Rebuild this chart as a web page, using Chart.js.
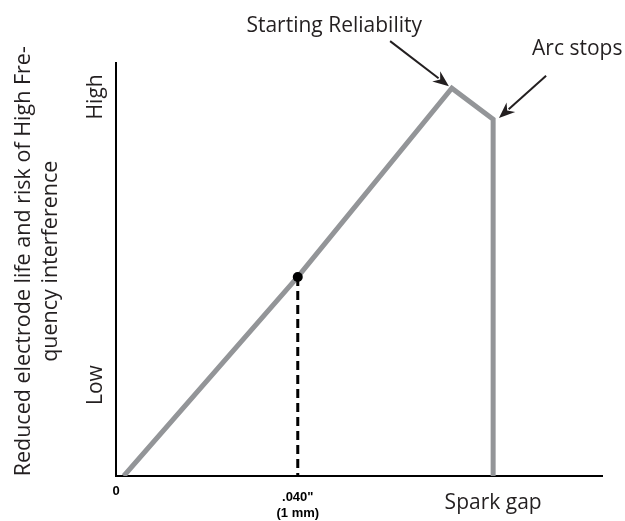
<!DOCTYPE html>
<html>
<head>
<meta charset="utf-8">
<script src="https://cdn.jsdelivr.net/npm/chart.js@4.4.1/dist/chart.umd.min.js"></script>
<style>
  html, body { margin: 0; padding: 0; background: #ffffff; }
  #wrap { width: 625px; height: 521px; }
</style>
</head>
<body>
<div id="wrap"><canvas id="c" width="625" height="521"></canvas></div>
<script>
// Recommended gap marker (relative units 0-100 on both axes)
const gapX = 37.4;
const gapLevel = 48.2;

// Electrode wear / HF interference versus spark gap
const curveX = [1.6, gapX, 69.1, 77.6, 77.6];
const curveY = [0, gapLevel, 93.9, 86.4, 0];

// Axis tick labels
const xTickValues = [0, gapX, 77.6];
const xTickLabels = [['0'], ['.040"', '(1 mm)'], ['Spark gap']];
const yTickValues = [22.0, 91.8];
const yTickLabels = ['Low', 'High'];
const yTitle = ['Reduced electrode life and risk of High Fre-', 'quency interference'];
const yTitleCenter = 52;   // axis value at the middle of the title

// Callouts: text anchor (baseline centre), arrow tail, arrow tip
const calloutText = ['Starting Reliability', 'Arc stops'];
const calloutTextX = [44.9, 94.9];
const calloutTextY = [107.5, 101.9];
const arrowFromX = [56.4, 88.5];
const arrowFromY = [105.3, 96.9];
const arrowToX = [68.5, 78.8];
const arrowToY = [94.4, 86.7];

const TEXT_FONT = '"Open Sans", "Noto Sans", sans-serif';
const TEXT_COLOR = '#231f20';

// Draws the rotated y-axis labels, the y title and the arrow callouts
const calloutPlugin = {
  id: 'callouts',
  afterDraw(chart) {
    const { ctx, scales: { x, y } } = chart;
    ctx.save();
    ctx.fillStyle = TEXT_COLOR;
    ctx.textAlign = 'center';
    ctx.textBaseline = 'middle';

    // y title, two rotated lines
    ctx.font = '21.5px ' + TEXT_FONT;
    yTitle.forEach((line, i) => {
      ctx.save();
      ctx.translate(24 + i * 26.5, y.getPixelForValue(yTitleCenter));
      ctx.rotate(-Math.PI / 2);
      ctx.fillText(line, 0, 0);
      ctx.restore();
    });

    // rotated y tick labels
    ctx.font = '21px ' + TEXT_FONT;
    yTickValues.forEach((v, i) => {
      ctx.save();
      ctx.translate(x.left - 20, y.getPixelForValue(v));
      ctx.rotate(-Math.PI / 2);
      ctx.fillText(yTickLabels[i], 0, 0);
      ctx.restore();
    });

    // callout texts and arrows
    calloutText.forEach((t, i) => {
      ctx.fillStyle = TEXT_COLOR;
      ctx.font = '21px ' + TEXT_FONT;
      ctx.textAlign = 'center';
      ctx.textBaseline = 'alphabetic';
      ctx.fillText(t, x.getPixelForValue(calloutTextX[i]), y.getPixelForValue(calloutTextY[i]));
      const x0 = x.getPixelForValue(arrowFromX[i]);
      const y0 = y.getPixelForValue(arrowFromY[i]);
      const x1 = x.getPixelForValue(arrowToX[i]);
      const y1 = y.getPixelForValue(arrowToY[i]);
      const ang = Math.atan2(y1 - y0, x1 - x0);
      const headLen = 16, headW = 6.5;
      const bx = x1 - headLen * Math.cos(ang);
      const by = y1 - headLen * Math.sin(ang);
      ctx.strokeStyle = TEXT_COLOR;
      ctx.lineWidth = 2;
      ctx.beginPath();
      ctx.moveTo(x0, y0);
      ctx.lineTo(bx + 3 * Math.cos(ang), by + 3 * Math.sin(ang));
      ctx.stroke();
      ctx.beginPath();
      ctx.moveTo(x1, y1);
      ctx.lineTo(bx + headW * Math.sin(ang), by - headW * Math.cos(ang));
      ctx.lineTo(x1 - (headLen - 5) * Math.cos(ang), y1 - (headLen - 5) * Math.sin(ang));
      ctx.lineTo(bx - headW * Math.sin(ang), by + headW * Math.cos(ang));
      ctx.closePath();
      ctx.fill();
    });
    ctx.restore();
  }
};

const boldTickFont = { family: '"Liberation Sans", Arial, sans-serif', size: 13, weight: 'bold', lineHeight: 1.2 };

new Chart(document.getElementById('c'), {
  type: 'line',
  data: {
    datasets: [
      {
        label: 'gap',
        data: [{ x: gapX, y: gapLevel }, { x: gapX, y: 0 }],
        borderColor: '#000000',
        borderWidth: 3,
        borderDash: [9, 5],
        pointRadius: [5, 0],
        pointBackgroundColor: '#000000',
        pointBorderWidth: 0,
        clip: false
      },
      {
        label: 'curve',
        data: curveX.map((v, i) => ({ x: v, y: curveY[i] })),
        borderColor: '#939598',
        borderWidth: 5,
        borderJoinStyle: 'miter',
        pointRadius: 0
      }
    ]
  },
  options: {
    responsive: false,
    animation: false,
    layout: { padding: { top: 63, right: 23, left: 0, bottom: 0 } },
    plugins: { legend: { display: false }, tooltip: { enabled: false } },
    scales: {
      x: {
        type: 'linear',
        min: 0,
        max: 100,
        grid: { display: false, drawTicks: false },
        border: { display: true, color: '#000000', width: 2 },
        afterBuildTicks(scale) { scale.ticks = xTickValues.map(v => ({ value: v })); },
        afterFit(scale) { scale.height = 45; },
        ticks: {
          autoSkip: false,
          maxRotation: 0,
          padding: 14,
          color: (ctx) => ctx.index === 2 ? TEXT_COLOR : '#000000',
          font: (ctx) => {
            if (ctx.index === 2) return { family: TEXT_FONT, size: 21, weight: 'normal', lineHeight: 1.2 };
            if (ctx.index === 0) return Object.assign({}, boldTickFont, { lineHeight: 0.25 });
            return boldTickFont;
          },
          callback: (v, i) => xTickLabels[i]
        }
      },
      y: {
        type: 'linear',
        min: 0,
        max: 100,
        grid: { display: false, drawTicks: false },
        border: { display: true, color: '#000000', width: 2 },
        ticks: { display: false },
        afterFit(scale) { scale.width = 116; }
      }
    }
  },
  plugins: [calloutPlugin]
});
</script>
</body>
</html>
